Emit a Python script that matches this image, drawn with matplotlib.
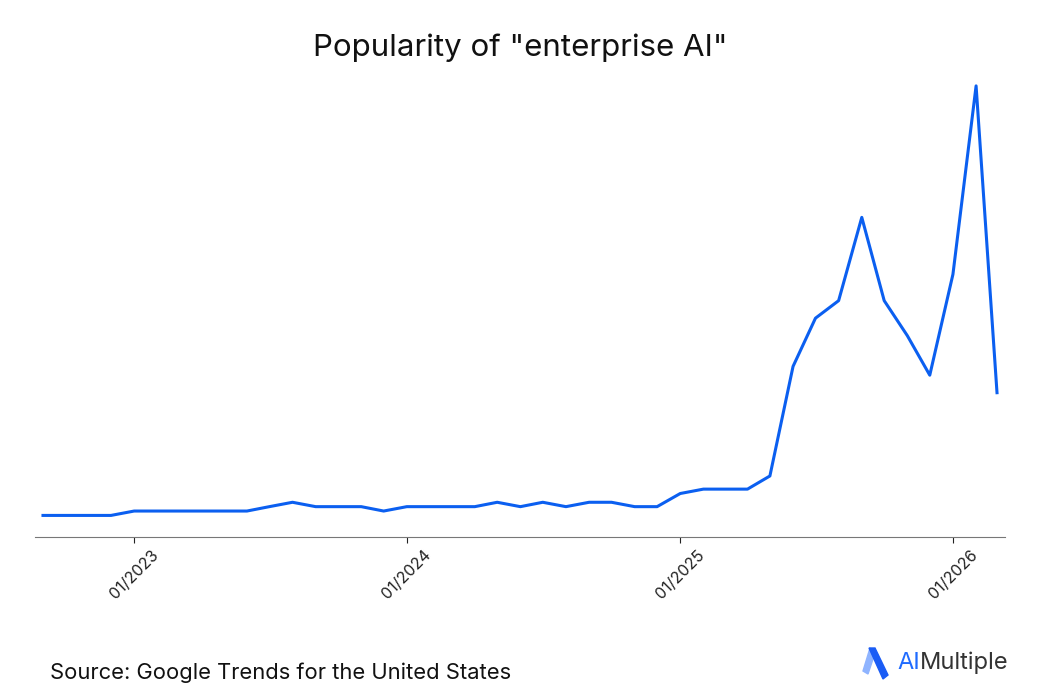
import matplotlib
matplotlib.use("Agg")
import matplotlib.pyplot as plt
import matplotlib.dates as mdates
from matplotlib.patches import Polygon
import pandas as pd

plt.rcParams['font.family'] = ['Inter', 'DejaVu Sans']

# monthly Google Trends index, Sep 2022 .. Mar 2026
months = pd.date_range("2022-09-01", "2026-03-01", freq="MS")
popularity = [2, 2, 2, 2,
              3, 3, 3, 3, 3, 3, 4, 5, 4, 4, 4, 3,
              4, 4, 4, 4, 5, 4, 5, 4, 5, 5, 4, 4,
              7, 8, 8, 8, 11, 36, 47, 51, 70, 51, 43, 34,
              57, 100, 30]
tick_dates = pd.to_datetime(["2023-01-01", "2024-01-01", "2025-01-01", "2026-01-01"])

W, H = 1040.0, 700.0


def px(x, y):
    # pixel coords (from top-left) -> figure fraction
    return (x / W, 1 - y / H)


fig = plt.figure(figsize=(10.4, 7), dpi=100)
ax = fig.add_axes([0.034, 0.233, 0.932, 0.675])

ax.plot(months, popularity, color="#0b5ff0", linewidth=2.2)
ax.margins(x=0.008, y=0.05)

for side in ["top", "right", "left"]:
    ax.spines[side].set_visible(False)
ax.spines["bottom"].set_color("#777777")
ax.set_yticks([])
ax.set_xticks(tick_dates)
ax.xaxis.set_major_formatter(mdates.DateFormatter("%m/%Y"))
ax.tick_params(axis="x", length=4, color="#222222", labelsize=11.5, labelcolor="#222222")
for lbl in ax.get_xticklabels():
    lbl.set_rotation(45)
    lbl.set_ha("center")

fig.text(0.5, 0.932, 'Popularity of "enterprise AI"', ha="center", va="center",
         fontsize=22.5, color="#111111")
fig.text(0.048, 0.039, "Source: Google Trends for the United States", ha="left",
         va="center", fontsize=15.8, color="#111111")

# logo
leg = Polygon([px(863, 671), px(870, 648), px(874, 656), px(868, 674)], closed=True,
              transform=fig.transFigure, color="#8fb4ff")
fig.patches.append(leg)
stroke = Polygon([px(869, 648), px(875, 648), px(888, 675), px(883, 679)], closed=True,
                 transform=fig.transFigure, color="#1a5cf5")
fig.patches.append(stroke)
t1 = fig.text(px(897, 0)[0], px(0, 663)[1], "AI", ha="left", va="center",
              fontsize=17, color="#1f6bff")
fig.canvas.draw()
bb = t1.get_window_extent().transformed(fig.transFigure.inverted())
fig.text(bb.x1, px(0, 663)[1], "Multiple", ha="left", va="center", fontsize=17,
         color="#333333")

fig.savefig("out.png", dpi=100)
